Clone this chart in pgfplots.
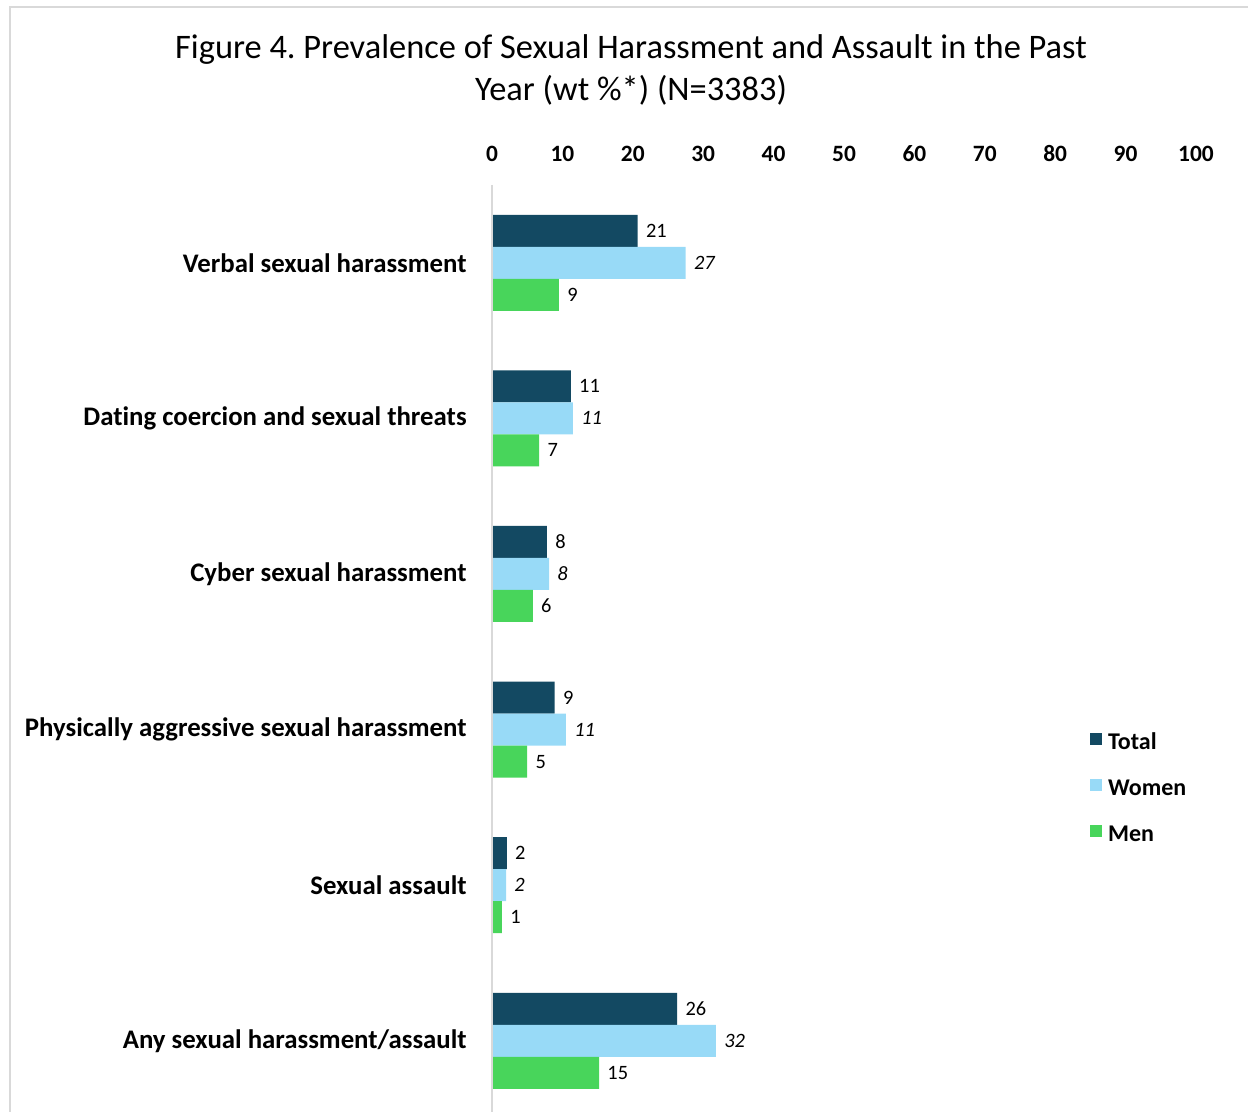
\documentclass[border=0pt]{standalone}
\usepackage{pgfplots}
\pgfplotsset{compat=1.18}
\usepackage{fontspec}
\setmainfont{Carlito}[Ligatures=NoCommon]
\definecolor{ctotal}{HTML}{134962}
\definecolor{cwomen}{HTML}{98DAF7}
\definecolor{cmen}{HTML}{48D55B}
\definecolor{cframe}{HTML}{D9D9D9}
\frenchspacing
\begin{document}
\begin{tikzpicture}
\useasboundingbox (0,0) rectangle (624bp,556bp);
\draw[cframe, line width=0.75bp] (5bp,-2bp) -- (5bp,552.5bp) -- (626bp,552.5bp);
\node[font=\fontsize{17.2bp}{21bp}\selectfont, align=center] at (315.5bp,521bp)
  {Figure 4. Prevalence of Sexual Harassment and Assault in the Past\\Year (wt \%*) (N=3383)};
\begin{axis}[
  at={(246bp,463.5bp)}, anchor=north west,
  scale only axis, width=352bp, height=466.8bp,
  xmin=0, xmax=100, ymin=-0.5, ymax=5.5,
  xbar, bar width=16bp,
  axis line style={draw=none},
  xticklabel pos=upper,
  xtick={0,10,...,100}, major tick length=0pt, tick style={draw=none},
  /pgf/number format/assume math mode=true,
  xticklabel style={font=\bfseries\fontsize{11.7bp}{13bp}\selectfont, anchor=base, inner sep=0pt, yshift=11.5bp},
  ytick={0,1,2,3,4,5},
  yticklabels={Any sexual harassment/assault, Sexual assault, Physically aggressive sexual harassment, Cyber sexual harassment, Dating coercion and sexual threats, Verbal sexual harassment},
  yticklabel style={font=\bfseries\fontsize{13.4bp}{15bp}\selectfont, anchor=east, inner sep=0pt, xshift=-12.5bp},
  point meta=explicit symbolic,
  nodes near coords={\pgfplotspointmeta},
  every node near coord/.append style={anchor=west, inner sep=0pt, xshift=4bp, font=\fontsize{10.2bp}{12bp}\selectfont, text=black},
  legend style={at={(axis cs:84.9,1.98)}, anchor=north west, draw=none, fill=none, inner sep=0pt,
    nodes={inner sep=0pt, text height=7.5bp, text depth=0pt, font=\bfseries\fontsize{12bp}{14bp}\selectfont},
    row sep=14.7bp, column sep=3bp},
  legend cell align=left,
  legend image code/.code={\fill[#1] (0bp,-1.5bp) rectangle (6bp,4.5bp);},
  clip=false,
]
\addplot[fill=ctotal, draw=none, bar shift=16bp] coordinates {
  (26.3,0) [26] (2.1,1) [2] (8.9,2) [9] (7.8,3) [8] (11.2,4) [11] (20.7,5) [21]};
\addlegendentry{Total}
\addplot[fill=cwomen, draw=none, bar shift=0bp, every node near coord/.append style={font=\itshape\fontsize{10.2bp}{12bp}\selectfont}] coordinates {
  (31.8,0) [32] (2.0,1) [2] (10.5,2) [11] (8.1,3) [8] (11.5,4) [11] (27.5,5) [27]};
\addlegendentry{Women}
\addplot[fill=cmen, draw=none, bar shift=-16bp] coordinates {
  (15.2,0) [15] (1.4,1) [1] (5.0,2) [5] (5.8,3) [6] (6.7,4) [7] (9.5,5) [9]};
\addlegendentry{Men}
\draw[cframe, line width=1bp] (axis cs:0,5.5) -- (axis cs:0,-0.7);
\end{axis}
\end{tikzpicture}
\end{document}
